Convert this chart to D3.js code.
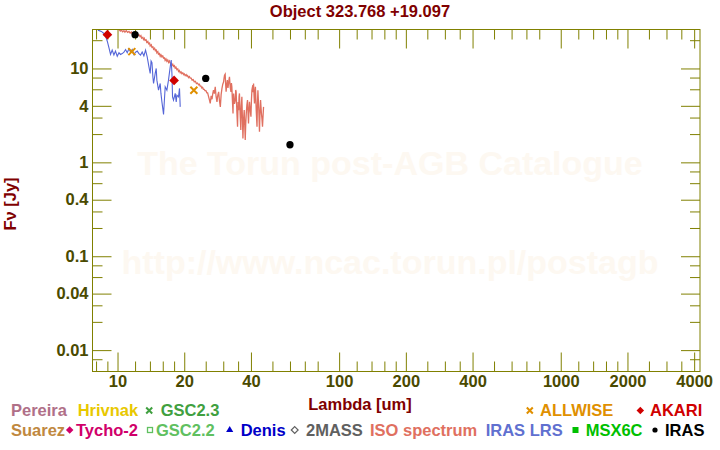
<!DOCTYPE html>
<html><head><meta charset="utf-8">
<script src="https://cdn.jsdelivr.net/npm/d3@7"></script>
<style>
html,body{margin:0;padding:0;background:#fff;}
text{font-family:"Liberation Sans",Arial,sans-serif;font-weight:bold;}
</style></head>
<body>
<svg id="c" width="720" height="450"></svg>
<script>
// ---------- data ----------
const title = "Object 323.768 +19.097";
const xMajorTicks = [10,20,40,100,200,400,1000,2000,4000];
const xMinorTicks = [8,9,12,14,16,18,25,30,35,50,60,70,80,120,140,160,180,250,300,350,500,600,700,800,1200,1400,1600,1800,2500,3000,3500];
const yMajorTicks = [10,4,1,0.4,0.1,0.04,0.01];
const yMajorLabels = ["10","4","1","0.4","0.1","0.04","0.01"];
const yMinorTicks = [20,8,6,3,2,0.8,0.6,0.3,0.2,0.08,0.06,0.03,0.02,0.008];

const isoWave = [9.85,10.0,10.15,10.3,10.4,10.55,10.69,10.8,10.95,11.1,11.26,11.4,11.55,11.7,11.86,12.0,12.15,12.3,12.49,12.64,12.75,12.85,13.0,13.1,13.2,13.3,13.45,13.55,13.7,13.8,13.95,14.04,14.2,14.3,14.45,14.54,14.7,14.8,14.95,15.05,15.2,15.3,15.45,15.58,15.7,15.85,16.0,16.13,16.3,16.4,16.55,16.7,16.85,17.0,17.15,17.29,17.45,17.6,17.75,17.89,18.05,18.2,18.35,18.53,18.7,18.85,19.0,19.18,19.35,19.5,19.7,19.86,20.0,20.2,20.4,20.56,20.7,20.9,21.1,21.27,21.5,21.7,21.95,22.2,22.45,22.7,22.95,23.2,23.4,23.6,23.8,24.0,24.2,24.4,24.6,24.8,25.05,25.3,25.5,25.7,
  26.0,26.2,26.45,26.7,26.9,27.1,27.35,27.6,27.85,28.1,28.35,28.6,28.85,29.1,29.35,29.6,29.85,30.1,30.25,30.4,30.6,30.75,30.9,31.1,31.3,31.5,31.7,31.85,32.0,32.25,32.5,32.65,32.8,33.0,33.2,33.3,33.4,33.7,34.0,34.15,34.3,34.55,34.8,35.0,35.2,35.35,35.5,35.75,36.0,36.2,36.4,36.6,36.8,37.05,37.3,37.5,37.7,37.9,38.1,38.35,38.6,38.8,39.0,39.2,39.4,39.7,40.0,40.2,40.4,40.6,40.8,40.95,41.1,41.3,41.5,41.7,41.9,42.25,42.6,42.8,43.0,43.2,43.4,43.55,43.7,43.95,44.2,44.4,44.6,44.85,45.1,45.35,45.6];
const isoFlux = [27.5,26.6,26.0,25.0,25.6,24.6,25.3,24.4,25.3,24.2,24.8,23.8,24.4,23.2,23.9,22.9,23.4,22.3,22.9,21.8,22.4,21.0,21.5,20.4,21.0,19.9,20.2,19.0,19.4,18.3,18.6,17.4,17.9,16.8,17.0,16.0,16.4,15.5,15.7,14.7,15.1,14.2,14.4,13.5,14.0,13.3,13.6,12.9,13.0,12.2,12.6,11.9,12.3,11.6,12.0,11.4,11.3,10.8,11.1,10.5,10.7,10.1,10.3,9.7,9.9,9.3,9.5,9.0,9.2,8.8,9.0,8.6,8.75,8.4,8.6,8.3,8.4,8.0,8.2,7.9,7.9,7.5,7.6,7.2,7.3,6.9,7.0,6.7,6.8,6.5,6.5,6.2,6.3,6.0,6.0,5.8,5.8,5.5,5.5,5.1,
  4.6,4.24,5.1,4.7,5.4,5.87,5.4,6.37,5.0,4.41,5.2,5.64,4.5,3.9,5.3,6.13,6.8,7.2,7.9,8.49,8.7,6.8,5.64,6.7,7.51,6.2,6.92,7.6,8.14,6.3,5.64,7.0,6.37,4.5,3.32,4.8,5.42,4.2,4.6,5.9,5.64,3.5,2.39,4.4,3.6,5.0,5.42,3.3,2.21,4.0,4.99,3.0,1.8,2.9,3.6,2.5,1.73,2.6,3.32,4.1,4.6,3.4,2.6,3.6,4.41,3.6,3.06,4.6,5.87,6.3,6.64,5.6,6.92,5.2,4.24,5.6,6.37,3.6,2.39,4.3,5.87,4.6,3.6,2.8,2.12,3.4,4.6,3.9,3.32,2.9,2.39,3.1,3.9];

const lrsWave = [8.16,8.45,8.68,8.83,8.99,9.15,9.3,9.46,9.63,9.79,9.97,10.15,10.32,10.5,10.69,10.87,11.06,11.26,11.45,11.65,11.86,12.06,12.27,12.49,12.7,12.92,13.15,13.38,13.61,13.86,14.04,14.17,14.3,14.44,14.54,14.79,14.95,15.05,15.31,15.58,15.7,15.86,16.13,16.24,16.41,16.7,16.98,17.29,17.47,17.6,17.71,17.89,18.21,18.4,18.53,18.84,19.04,19.18];
const lrsFlux = [25.6,24.8,23.6,22.1,19.5,16.6,14.1,15.7,13.9,15.3,13.5,14.7,14.1,14.4,14.9,15.9,14.7,16.2,15.0,15.9,14.1,14.9,15.3,14.4,13.9,15.0,13.6,15.7,13.3,10.4,8.85,12.0,11.5,8.14,6.92,8.85,10.0,7.51,5.87,6.92,5.42,4.41,3.24,4.24,6.37,5.87,7.51,10.4,12.3,8.85,4.99,4.6,5.42,4.41,5.2,4.99,6.13,3.9];

const akariWave = [9.0, 18.0];
const akariFlux = [22.9, 7.46];
const irasWave = [12, 25, 60];
const irasFlux = [22.9, 7.83, 1.54];
const allwiseWave = [11.6, 22.1];
const allwiseFlux = [15.1, 5.85];

const legendRow1 = ["Pereira","Hrivnak","GSC2.3","ALLWISE","AKARI"];
const legendRow1Sym = [null,null,"x","x","diamond"];
const legendRow1Col = ["#b07088","#e8c800","#40a040","#e09000","#d00000"];
const legendRow2 = ["Suarez","Tycho-2","GSC2.2","Denis","2MASS","ISO spectrum","IRAS LRS","MSX6C","IRAS"];
const legendRow2Sym = [null,"diamond","squareOpen","triangle","diamondOpen",null,null,"square","circle"];
const legendRow2Col = ["#c08840","#d0006a","#60c060","#0000c8","#606060","#e07060","#6070d0","#00c000","#000000"];

// ---------- layout ----------
const L = 92.5, R = 700, T = 29.5, B = 371.5;
const svg = d3.select("#c");
const x = d3.scaleLog().domain([7.71, 4250]).range([L, R]);
const y = d3.scaleLog().domain([0.00592, 26.0]).range([B, T]);
const olive = "#808000", tickText = "#4a4a00", titleCol = "#800000";

// watermark
svg.append("text").attr("x", 390).attr("y", 175).attr("text-anchor","middle")
  .attr("font-size", 34).attr("fill", "#fdf8f1").text("The Torun post-AGB Catalogue");
svg.append("text").attr("x", 390).attr("y", 274).attr("text-anchor","middle")
  .attr("font-size", 34).attr("fill", "#fdf8f1").text("http://www.ncac.torun.pl/postagb");

// title
svg.append("text").attr("x", 360).attr("y", 17).attr("text-anchor","middle")
  .attr("font-size", 16.5).attr("fill", titleCol).text(title);

// axes
function styleAxis(g){
  g.select(".domain").remove();
  g.selectAll("line").attr("stroke", olive);
  g.selectAll("text").attr("fill", tickText).attr("font-size", 16.5)
    .attr("font-family", '"Liberation Sans",Arial,sans-serif').attr("font-weight","bold");
}
const fmtX = d => String(d);
svg.append("g").attr("transform", `translate(0,${B})`)
  .call(d3.axisBottom(x).tickValues(xMajorTicks).tickSize(-19).tickPadding(4).tickFormat(fmtX)).call(styleAxis);
svg.append("g").attr("transform", `translate(0,${B})`)
  .call(d3.axisBottom(x).tickValues(xMinorTicks).tickSize(-10).tickFormat("")).call(styleAxis);
svg.append("g").attr("transform", `translate(0,${T})`)
  .call(d3.axisTop(x).tickValues(xMajorTicks).tickSize(-19).tickFormat("")).call(styleAxis);
svg.append("g").attr("transform", `translate(0,${T})`)
  .call(d3.axisTop(x).tickValues(xMinorTicks).tickSize(-10).tickFormat("")).call(styleAxis);
svg.append("g").attr("transform", `translate(${L},0)`)
  .call(d3.axisLeft(y).tickValues(yMajorTicks).tickSize(-19).tickPadding(4)
    .tickFormat((d,i) => yMajorLabels[i])).call(styleAxis);
svg.append("g").attr("transform", `translate(${L},0)`)
  .call(d3.axisLeft(y).tickValues(yMinorTicks).tickSize(-10).tickFormat("")).call(styleAxis);
svg.append("g").attr("transform", `translate(${R},0)`)
  .call(d3.axisRight(y).tickValues(yMajorTicks).tickSize(-19).tickFormat("")).call(styleAxis);
svg.append("g").attr("transform", `translate(${R},0)`)
  .call(d3.axisRight(y).tickValues(yMinorTicks).tickSize(-10).tickFormat("")).call(styleAxis);

// axis titles
svg.append("text").attr("x", 360).attr("y", 409.5).attr("text-anchor","middle")
  .attr("font-size", 16.5).attr("fill", titleCol).text("Lambda [um]");
svg.append("text").attr("transform","translate(15.5,204) rotate(-90)").attr("text-anchor","middle")
  .attr("font-size", 16.5).attr("fill", titleCol).text("Fν [Jy]");

// clip
svg.append("clipPath").attr("id","clip").append("rect")
  .attr("x", L).attr("y", T).attr("width", R-L).attr("height", B-T);
const plot = svg.append("g").attr("clip-path","url(#clip)");

const line = d3.line().x(d => x(d[0])).y(d => y(d[1]));
plot.append("path").datum(d3.zip(isoWave, isoFlux)).attr("d", line)
  .attr("fill","none").attr("stroke","#e07060").attr("stroke-width",1.3);
plot.append("path").datum(d3.zip(lrsWave, lrsFlux)).attr("d", line)
  .attr("fill","none").attr("stroke","#5566d8").attr("stroke-width",1.1);

// frame
svg.append("rect").attr("x", L).attr("y", T).attr("width", R-L).attr("height", B-T)
  .attr("fill","none").attr("stroke", olive).attr("stroke-width",1);

// markers
const sym = {
  diamond: d3.symbol().type(d3.symbolDiamond2).size(60),
  circle: d3.symbol().type(d3.symbolCircle).size(42)
};
plot.selectAll(".irasp").data(d3.zip(irasWave, irasFlux)).join("path")
  .attr("transform", d => `translate(${x(d[0])},${y(d[1])})`).attr("d", sym.circle()).attr("fill","#000");
plot.selectAll(".akarip").data(d3.zip(akariWave, akariFlux)).join("path")
  .attr("transform", d => `translate(${x(d[0])},${y(d[1])})`).attr("d", sym.diamond()).attr("fill","#d00000");
plot.selectAll(".awp").data(d3.zip(allwiseWave, allwiseFlux)).join("path")
  .attr("transform", d => `translate(${x(d[0])},${y(d[1])})`)
  .attr("d", "M-3.5,-3.5L3.5,3.5M-3.5,3.5L3.5,-3.5").attr("stroke","#e09000").attr("stroke-width",2).attr("fill","none");

// legend
function drawSymbol(g, type, col, cx, cy){
  if (!type) return;
  if (type === "x") g.append("path").attr("transform",`translate(${cx},${cy})`)
     .attr("d","M-3,-3L3,3M-3,3L3,-3").attr("stroke",col).attr("stroke-width",2);
  else if (type === "diamond") g.append("path").attr("transform",`translate(${cx},${cy})`)
     .attr("d", d3.symbol().type(d3.symbolDiamond2).size(36)()).attr("fill",col);
  else if (type === "diamondOpen") g.append("path").attr("transform",`translate(${cx},${cy})`)
     .attr("d", d3.symbol().type(d3.symbolDiamond2).size(30)()).attr("fill","none").attr("stroke",col).attr("stroke-width",1.2);
  else if (type === "squareOpen") g.append("rect").attr("x",cx-2.5).attr("y",cy-2.5).attr("width",5).attr("height",5)
     .attr("fill","none").attr("stroke",col).attr("stroke-width",1.3);
  else if (type === "square") g.append("rect").attr("x",cx-3).attr("y",cy-3).attr("width",6).attr("height",6).attr("fill",col);
  else if (type === "triangle") g.append("path").attr("transform",`translate(${cx},${cy})`)
     .attr("d", d3.symbol().type(d3.symbolTriangle).size(22)()).attr("fill",col);
  else if (type === "circle") g.append("circle").attr("cx",cx).attr("cy",cy).attr("r",2.6).attr("fill",col);
}
const row1Sx = [null,null,149.2,529.8,640.3];
const row1Tx = [11,77.7,160.7,540,650];
const row2Sx = [null,69.7,150,229.7,294.7,null,null,575.5,655];
const row2Tx = [11,76,156,240.7,306,370,485.7,585.7,665];
const lg = svg.append("g");
legendRow1.forEach((n,i) => {
  drawSymbol(lg, legendRow1Sym[i], legendRow1Col[i], row1Sx[i], 410.5);
  lg.append("text").attr("x", row1Tx[i]).attr("y", 416).attr("font-size",16.5).attr("fill",legendRow1Col[i]).text(n);
});
legendRow2.forEach((n,i) => {
  drawSymbol(lg, legendRow2Sym[i], legendRow2Col[i], row2Sx[i], 430);
  lg.append("text").attr("x", row2Tx[i]).attr("y", 435.5).attr("font-size",16.5).attr("fill",legendRow2Col[i]).text(n);
});
</script>
</body></html>
